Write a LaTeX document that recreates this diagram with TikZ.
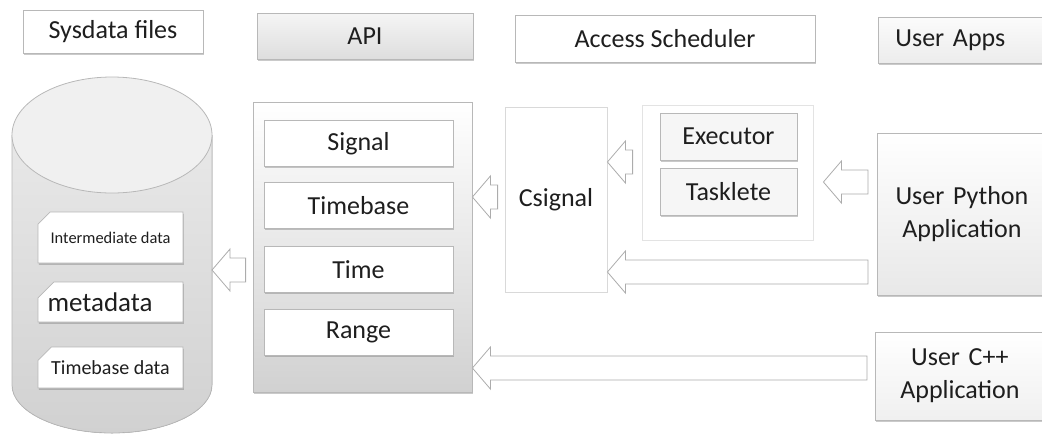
\documentclass[tikz,border=0pt]{standalone}
\usepackage{fontspec}
\setmainfont{Carlito}
\usetikzlibrary{calc}
\usetikzlibrary{shapes.misc}
\usetikzlibrary{shadows}
\definecolor{boxline}{HTML}{B8B8B8}
\definecolor{inktext}{HTML}{1E1E1E}
\tikzset{
  boxshadow/.style={drop shadow={shadow xshift=0.4pt,shadow yshift=-0.9pt,opacity=0.35,fill=black!60}},
  headbox/.style={draw=boxline,fill=white,boxshadow,minimum height=23pt,inner sep=0pt,
    font=\fontsize{13}{15}\selectfont,text=inktext},
  itembox/.style={draw=boxline,fill=white,boxshadow,inner sep=0pt,
    font=\fontsize{13}{15}\selectfont,text=inktext},
  appbox/.style={draw=boxline,top color=white,bottom color=gray!18,boxshadow,anchor=west,
    text width=66.5pt,align=center,inner xsep=9pt,inner ysep=0pt,
    font=\fontsize{13}{16.5}\selectfont,text=inktext},
  datatab/.style={chamfered rectangle,chamfered rectangle corners=north west,
    chamfered rectangle xsep=5pt,draw=boxline,fill=white,boxshadow,inner sep=0pt,
    minimum width=72.5pt,text=inktext},
  flowarrow/.style={draw=gray!65,fill=white,line join=miter},
}
% hollow block arrow pointing left, from tail #1 to tip #2
\newcommand{\hollowarrow}[2]{%
  \draw[flowarrow] let \p1=(#1), \p2=(#2) in
    (\x1,\y1+6pt) -- (\x2+9pt,\y1+6pt) -- (\x2+9pt,\y1+10.5pt) -- (\x2,\y1)
    -- (\x2+9pt,\y1-10.5pt) -- (\x2+9pt,\y1-6pt) -- (\x1,\y1-6pt) -- cycle;}

\begin{document}
\begin{tikzpicture}[x=0.5pt,y=-0.5pt]
\useasboundingbox (0,0) rectangle (1042,435);
% headers
\node[headbox,minimum width=90pt,minimum height=21.5pt] (sysdata) at (113,31.5) {Sysdata files};
\node[headbox,minimum width=108pt,top color=gray!8,bottom color=gray!26] (apihead) at (365,36) {API};
\node[headbox,minimum width=150pt,minimum height=23.5pt] (schedhead) at (665,38.5) {Access Scheduler};
\node[headbox,anchor=west,text width=80pt,align=left,inner xsep=8.5pt,
  top color=gray!3,bottom color=gray!15] (appshead) at (878,40) {User Apps};

% database cylinder
\fill[top color=gray!18,bottom color=gray!36] (12,135) -- (12,385)
  arc[start angle=180,end angle=360,x radius=50pt,y radius=24pt] -- (212,135) -- cycle;
\draw[boxline] (12,135) -- (12,385)
  arc[start angle=180,end angle=360,x radius=50pt,y radius=24pt] -- (212,135);
\draw[boxline,fill=gray!12] (112,135) ellipse[x radius=50pt,y radius=29pt];
\coordinate (dbright) at (212,270);
\node[datatab,minimum height=25.5pt,font=\fontsize{8.2}{10}\selectfont] (interdata) at (110.5,237.5) {Intermediate data};
\node[datatab,minimum height=20pt,minimum width=0pt,text width=63pt,align=left,
  font=\fontsize{13.5}{15}\selectfont] (metadata) at (110.5,302) {metadata};
\node[datatab,minimum height=20.5pt,font=\fontsize{10}{12}\selectfont] (tbdata) at (110.5,367.5) {Timebase data};

% API
\node[draw=boxline,top color=white,bottom color=gray!36,boxshadow,minimum width=109.5pt,minimum height=145pt] (apipanel) at (362.5,247) {};
\node[itembox,minimum width=94.5pt,minimum height=23pt] (signal) at (358.5,143.5) {Signal};
\node[itembox,minimum width=94.5pt,minimum height=23pt] (timebase) at (358.5,205.5) {Timebase};
\node[itembox,minimum width=94.5pt,minimum height=23pt] (time) at (358.5,269.5) {Time};
\node[itembox,minimum width=94.5pt,minimum height=23pt] (range) at (358.5,332.5) {Range};

% access scheduler
\node[draw=gray!30,fill=white,minimum width=51pt,minimum height=92.5pt,inner sep=0pt,
  font=\fontsize{13}{15}\selectfont,text=inktext] (csignal) at (556,199.5) {Csignal};
\node[draw=gray!22,fill=white,minimum width=85.5pt,minimum height=67.5pt] (execpanel) at (727.5,172.5) {};
\node[itembox,fill=gray!7,minimum width=68.5pt,minimum height=23.5pt] (executor) at (728.5,136.5) {Executor};
\node[itembox,fill=gray!7,minimum width=68.5pt,minimum height=23.5pt] (tasklete) at (728.5,191.5) {Tasklete};

% user apps
\node[appbox,minimum height=81pt] (python) at (877,214) {User Python\\Application};
\node[appbox,bottom color=gray!12,minimum height=44pt] (cpp) at (875,376) {User C++\\Application};

% flows
\hollowarrow{$(apipanel.west)+(-7,23)$}{dbright}
\hollowarrow{$(csignal.west)+(-7,-2.5)$}{apipanel.east}
\hollowarrow{$(execpanel.west)+(-9,-10.5)$}{csignal.east}
\hollowarrow{$(python.west)+(-9,-32)$}{$(execpanel.east)+(10,0)$}
\hollowarrow{$(python.west)+(-9,58)$}{csignal.east}
\hollowarrow{$(cpp.west)+(-8,-8)$}{apipanel.east}
\end{tikzpicture}
\end{document}
